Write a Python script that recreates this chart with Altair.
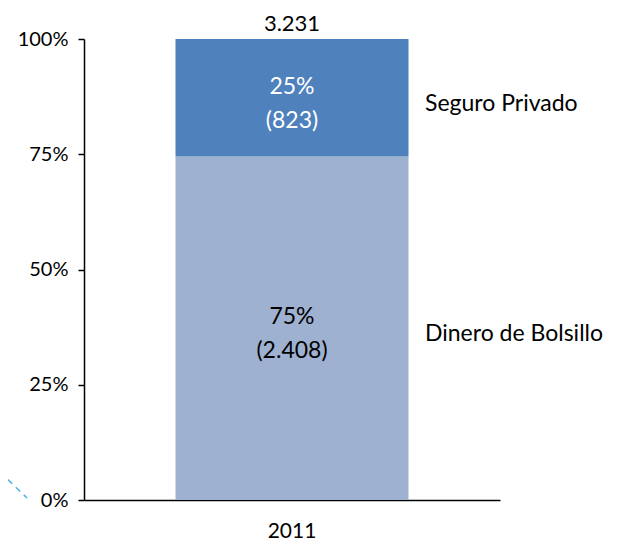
import altair as alt
import pandas as pd

year = "2011"
series = ["Dinero de Bolsillo", "Seguro Privado"]
values = [2408, 823]
colors = ["#9EB1D1", "#4F81BD"]
text_colors = ["black", "white"]

total = sum(values)

def fmt(n):
    return f"{n:,}".replace(",", ".")

rows = []
cum = 0.0
for i, (s, v) in enumerate(zip(series, values)):
    pct = v / total
    rows.append({
        "year": year,
        "series": s,
        "value": v,
        "order": i,
        "pct_lo": cum,
        "pct_hi": cum + pct,
        "mid": cum + pct / 2,
        "label": f"{round(pct * 100)}%\n({fmt(v)})",
        "tcolor": text_colors[i],
    })
    cum += pct
df = pd.DataFrame(rows)
tot_df = pd.DataFrame({"year": [year], "top": [1.0], "label": [fmt(total)]})

FONT = "Lato"

x = alt.X("year:N", title=None,
          axis=alt.Axis(labelAngle=0, ticks=False, labelPadding=20, labelFontSize=21,
                        labelColor="black", domainColor="black", domainWidth=1.5,
                        labelFont=FONT))
y_axis = alt.Axis(values=[0, 0.25, 0.5, 0.75, 1], format="%", grid=False, tickSize=6,
                  tickColor="black", domainColor="black", domainWidth=1.5, tickWidth=1.5,
                  labelFontSize=20, labelColor="black", labelPadding=10, labelFont=FONT)

bars = alt.Chart(df).mark_bar(size=233).encode(
    x=x,
    y=alt.Y("pct_lo:Q", title=None, scale=alt.Scale(domain=[0, 1], nice=False), axis=y_axis),
    y2="pct_hi:Q",
    color=alt.Color("series:N", scale=alt.Scale(domain=series, range=colors), legend=None),
)

inner = alt.Chart(df).mark_text(fontSize=23, lineBreak="\n", lineHeight=34, baseline="middle",
                                dy=-11, font=FONT).encode(
    x="year:N",
    y="mid:Q",
    text="label:N",
    color=alt.Color("tcolor:N", scale=None),
)

side = alt.Chart(df).mark_text(fontSize=23, align="left", baseline="middle", dx=133, dy=6,
                               color="black", font=FONT).encode(
    x="year:N",
    y="mid:Q",
    text="series:N",
)

top = alt.Chart(tot_df).mark_text(fontSize=22, baseline="bottom", dy=-3, color="black",
                                  font=FONT).encode(
    x="year:N",
    y="top:Q",
    text="label:N",
)

dash = alt.Chart(tot_df).mark_rule(color="#4DB3E6", strokeDash=[6, 5], strokeWidth=1.5).encode(
    x=alt.value(-84), y=alt.value(433), x2=alt.value(-57), y2=alt.value(459)
)

chart = alt.layer(bars, inner, side, top, dash).properties(
    width=416, height=461,
    autosize=alt.AutoSizeParams(type="none"),
    padding={"left": 76, "top": 31, "right": 109, "bottom": 42},
).configure(background="white").configure_view(stroke=None)

chart.save("out.html", embed_options={"renderer": "svg", "actions": False})
